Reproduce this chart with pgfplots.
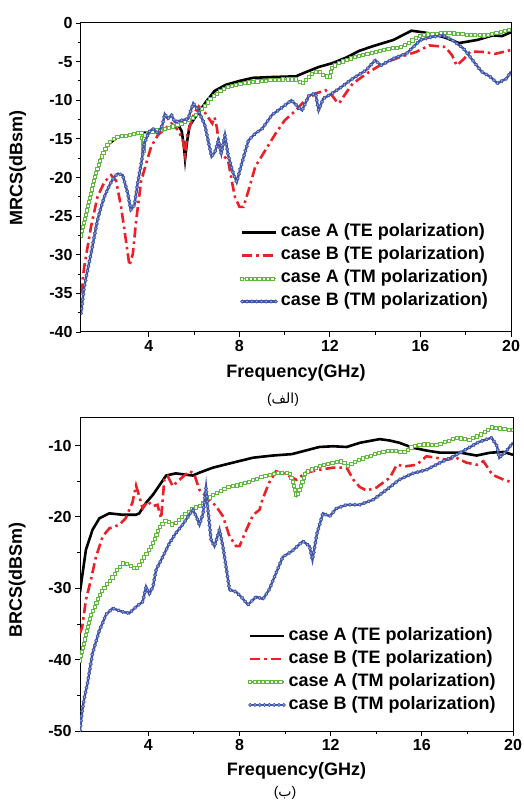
\documentclass[border=0pt]{standalone}
\usepackage{fontspec}
\setmainfont{Liberation Sans}
\newfontfamily\arabicfont[Script=Arabic]{DejaVu Sans}
\TeXXeTstate=1
\usepackage{pgfplots}
\usetikzlibrary{decorations.markings}
\pgfplotsset{compat=1.18}
\definecolor{cred}{RGB}{236,32,38}
\definecolor{cgreen}{RGB}{96,186,62}
\definecolor{cblue}{RGB}{62,84,168}
\pgfplotsset{
 myaxis/.style={
  scale only axis, xmin=1, xmax=20, xtick={4,8,12,16,20}, minor x tick num=1,
  tick align=outside, xtick pos=bottom, ytick pos=left,
  major tick length=5pt, minor tick length=3pt,
  tick style={black, line width=0.9pt},
  axis line style={line width=1pt},
  ticklabel style={font=\fontsize{16}{18}\selectfont\bfseries},
  /pgf/number format/assume math mode=true,
  label style={font=\fontsize{18}{20}\selectfont\bfseries},
  legend cell align=left,
  legend style={draw=none, fill=none, inner sep=0pt, font=\fontsize{18}{20}\selectfont\bfseries,
     nodes={text height=13pt, text depth=4pt, inner sep=3pt}, anchor=north west},
  legend image code/.code={\draw[##1] (0pt,0pt) -- (34pt,0pt);},
 },
 teA/.style={black, line width=2.6pt, no marks},
 teB/.style={cred, line width=2.6pt, no marks, dash pattern=on 10pt off 4pt on 2.5pt off 4pt},
 tmA/.style={cgreen, line width=1.3pt, no marks,
   postaction={decorate}, decoration={markings, mark=between positions 0 and 1 step 4.3pt with
   {\pgftransformresetnontranslations\draw[cgreen, fill=white, line width=0.7pt, solid] (-1.6pt,-1.6pt) rectangle (1.6pt,1.6pt);}}},
 tmB/.style={cblue, line width=2.4pt, no marks,
   postaction={decorate}, decoration={markings, mark=between positions 0 and 1 step 4.8pt with
   {\draw[cblue, fill=white!55!cblue, line width=0.7pt, solid] (0pt,0pt) circle (1.6pt);}}},
}
\begin{document}
\begin{tikzpicture}
\path[use as bounding box] (0pt,0pt) rectangle (523pt,803pt);
% ---------------- top ----------------
\begin{axis}[myaxis, at={(81pt,471pt)}, anchor=south west, width=430pt, height=309pt,
  ymin=-40, ymax=0, ytick={-40,-35,...,0}, minor y tick num=1,
  xlabel={Frequency(GHz)}, ylabel={MRCS(dBsm)},
  xlabel style={at={(axis description cs:0.5,0)}, anchor=center, yshift=-41pt},
  ylabel style={at={(axis description cs:-0.147,0.53)}, anchor=center},
  legend style={at={(axis description cs:0.37,0.36)}}]
\addplot[teA] table {
1.0 -27.6
1.3 -23.9
1.6 -20.2
1.9 -17.4
2.2 -15.7
2.6 -14.8
3.2 -14.5
3.7 -14.2
4.0 -14.2
4.4 -14.0
4.7 -13.8
5.0 -13.4
5.3 -13.2
5.45 -14.0
5.55 -16.0
5.6 -17.6
5.68 -15.5
5.8 -13.3
6.0 -12.4
6.2 -11.6
6.5 -10.3
6.9 -8.8
7.4 -8.0
8.0 -7.5
8.6 -7.1
9.4 -7.0
10.5 -6.9
10.9 -6.4
11.5 -5.7
12.1 -5.2
12.7 -4.5
13.3 -3.6
13.9 -3.0
14.8 -2.2
15.6 -1.0
16.1 -1.2
16.5 -1.4
17.1 -1.9
17.7 -2.6
18.5 -2.2
19.2 -1.6
19.6 -1.7
20.0 -1.2
};
\addlegendentry{case A (TE polarization)}
\addplot[teB] table {
1.0 -35.0
1.14 -31.6
1.44 -26.4
1.73 -22.5
2.03 -20.6
2.33 -19.7
2.55 -20.4
2.77 -23.8
2.92 -26.8
3.14 -31.4
3.29 -29.9
3.44 -25.5
3.66 -20.4
3.88 -18.2
4.1 -16.0
4.4 -14.5
4.7 -13.7
5.0 -13.0
5.3 -13.9
5.5 -15.2
5.6 -17.1
5.7 -14.3
6.0 -11.7
6.2 -10.8
6.5 -11.7
6.8 -13.0
6.9 -12.2
7.0 -13.5
7.1 -15.6
7.2 -16.9
7.5 -17.8
7.66 -20.4
7.8 -22.5
8.0 -23.8
8.18 -23.8
8.4 -21.7
8.7 -18.6
9.14 -16.5
9.6 -14.3
10.0 -12.6
10.5 -11.3
10.9 -10.0
11.4 -9.1
11.8 -8.7
12.1 -9.4
12.25 -10.0
12.4 -10.4
12.7 -9.1
13.0 -7.85
13.6 -6.6
14.3 -5.3
15.1 -4.4
15.8 -3.75
16.4 -2.9
17.1 -3.1
17.4 -4.2
17.6 -5.5
17.9 -4.7
18.2 -3.7
18.8 -3.75
19.3 -4.0
20.0 -3.5
};
\addlegendentry{case B (TE polarization)}
\addplot[tmA] table {
1.0 -27.5
1.15 -25.6
1.3 -23.8
1.45 -21.9
1.6 -20.1
1.75 -18.6
1.9 -17.3
2.05 -16.4
2.2 -15.6
2.4 -15.1
2.6 -14.75
2.9 -14.6
3.2 -14.45
3.45 -14.3
3.66 -14.1
3.72 -15.2
3.76 -16.6
3.8 -14.6
4.0 -14.1
4.35 -13.9
4.7 -13.7
5.0 -13.45
5.3 -13.2
5.6 -12.8
5.9 -12.4
6.1 -11.9
6.3 -11.3
6.55 -10.4
6.8 -9.6
7.1 -8.9
7.4 -8.4
7.7 -8.1
8.0 -7.85
8.4 -7.7
8.8 -7.55
9.3 -7.4
9.9 -7.3
10.5 -7.3
10.8 -7.85
11.1 -6.8
11.3 -6.4
11.5 -6.2
11.7 -6.8
12.0 -7.0
12.1 -5.7
12.4 -5.2
12.7 -4.8
13.1 -4.4
13.6 -4.0
14.3 -3.5
15.1 -3.1
15.5 -2.5
16.0 -1.6
16.5 -1.4
17.3 -1.3
18.0 -1.5
18.8 -1.6
19.5 -1.15
20.0 -0.85
};
\addlegendentry{case A (TM polarization)}
\addplot[tmB] table {
1.0 -37.6
1.14 -34.2
1.29 -32.0
1.44 -29.9
1.59 -27.6
1.73 -25.5
1.88 -23.9
2.03 -22.5
2.18 -21.5
2.33 -20.6
2.48 -19.9
2.62 -19.5
2.84 -19.7
3.07 -22.1
3.2 -24.2
3.36 -23.6
3.5 -20.8
3.66 -18.2
3.8 -15.6
4.0 -14.1
4.18 -13.7
4.4 -14.3
4.6 -13.2
4.7 -11.8
4.84 -12.4
5.0 -11.9
5.14 -12.8
5.44 -12.6
5.73 -12.4
5.96 -10.4
6.18 -11.3
6.47 -13.2
6.77 -17.3
6.92 -16.7
7.07 -15.2
7.2 -16.9
7.36 -14.5
7.5 -17.1
7.73 -19.5
7.88 -20.6
8.1 -18.2
8.4 -15.2
8.7 -14.3
9.0 -13.7
9.44 -11.9
9.9 -10.9
10.3 -10.0
10.6 -10.9
10.77 -11.3
11.07 -9.4
11.36 -9.1
11.5 -11.3
11.7 -9.8
12.1 -9.1
12.5 -8.3
13.0 -7.2
13.6 -6.1
14.0 -4.8
14.25 -5.5
14.8 -4.6
15.4 -3.9
16.0 -2.2
16.5 -1.8
17.0 -1.6
17.4 -2.2
17.9 -3.3
18.3 -4.8
18.7 -6.3
19.1 -7.0
19.4 -7.8
19.8 -7.2
20.0 -6.3
};
\addlegendentry{case B (TM polarization)}
\end{axis}
\node[font=\fontsize{14}{16}\selectfont, inner sep=0pt] at (283pt,403pt)
  {\hbox{(}\hbox{\arabicfont\beginR الف\endR}\hbox{)}};
% ---------------- bottom ----------------
\begin{axis}[myaxis, at={(80pt,72pt)}, anchor=south west, width=433pt, height=314pt,
  ymin=-50, ymax=-6, ytick={-50,-40,...,-10}, minor y tick num=1,
  xlabel={Frequency(GHz)}, ylabel={BRCS(dBSm)},
  xlabel style={at={(axis description cs:0.5,0)}, anchor=center, yshift=-40pt},
  ylabel style={at={(axis description cs:-0.145,0.48)}, anchor=center},
  legend style={at={(axis description cs:0.388,0.34)}}]
\addplot[teA] table {
1.0 -30.5
1.26 -24.6
1.55 -21.8
1.85 -20.2
2.29 -19.5
2.87 -19.7
3.46 -19.7
3.6 -19.5
3.9 -18.0
4.2 -16.9
4.5 -15.5
4.78 -14.2
5.2 -13.9
5.95 -14.2
6.24 -13.8
6.83 -13.1
7.7 -12.4
8.6 -11.7
9.46 -11.4
10.3 -11.2
10.9 -10.7
11.5 -10.2
12.1 -10.1
12.7 -10.2
13.3 -9.6
14.15 -9.1
14.6 -9.3
15.0 -9.6
15.6 -10.3
16.2 -10.7
16.8 -11.0
17.7 -11.0
18.4 -11.4
19.0 -11.0
19.6 -10.9
20.0 -11.3
};
\addlegendentry{case A (TE polarization)}
\addplot[teB] table {
1.0 -36.3
1.1 -35.4
1.26 -31.6
1.48 -28.8
1.7 -25.6
2.0 -22.7
2.29 -21.6
2.73 -21.1
3.0 -20.2
3.3 -18.0
3.46 -15.6
3.6 -17.1
3.75 -18.8
3.97 -17.8
4.19 -18.5
4.4 -18.3
4.56 -20.2
4.7 -14.8
4.85 -14.3
5.07 -15.7
5.36 -14.8
5.8 -13.6
6.0 -13.9
6.24 -16.2
6.53 -17.1
6.97 -18.5
7.27 -19.9
7.56 -22.7
7.85 -24.1
8.0 -24.1
8.3 -21.8
8.6 -19.7
8.88 -19.0
9.0 -17.6
9.3 -15.2
9.6 -13.6
10.05 -14.1
10.5 -14.8
10.9 -13.8
11.5 -13.4
12.1 -13.1
12.7 -13.1
13.0 -14.8
13.27 -15.8
13.57 -16.3
14.0 -15.9
14.6 -14.5
14.9 -12.7
15.3 -12.9
15.77 -12.7
16.2 -11.5
16.6 -11.7
17.1 -12.0
17.5 -11.7
17.96 -12.4
18.4 -12.7
18.7 -12.2
19.1 -14.1
19.6 -14.8
20.0 -15.2
};
\addlegendentry{case B (TE polarization)}
\addplot[tmA] table {
1.0 -40.1
1.1 -38.7
1.2 -37.3
1.3 -35.8
1.4 -34.4
1.55 -33.2
1.7 -32.1
1.85 -31.1
2.0 -30.2
2.2 -29.3
2.43 -28.4
2.65 -27.4
2.87 -26.5
3.16 -26.7
3.46 -27.4
3.75 -26.0
3.95 -25.0
4.2 -23.7
4.35 -22.5
4.5 -21.3
4.78 -20.4
5.07 -21.1
5.36 -20.4
5.66 -19.5
5.95 -18.8
6.24 -18.5
6.53 -17.6
6.75 -17.1
6.97 -16.7
7.2 -16.3
7.4 -15.9
7.7 -15.7
8.0 -15.5
8.3 -15.2
8.6 -14.8
8.9 -14.5
9.17 -14.2
9.5 -14.0
9.76 -13.8
10.2 -13.8
10.35 -15.2
10.5 -17.1
10.7 -15.7
10.9 -13.8
11.2 -13.3
11.5 -12.9
11.8 -12.6
12.1 -12.4
12.5 -12.2
12.76 -12.9
13.0 -12.4
13.27 -12.0
13.56 -11.6
13.86 -11.3
14.15 -11.0
14.45 -10.8
14.9 -10.7
15.2 -11.0
15.6 -10.1
15.9 -9.9
16.2 -9.8
16.6 -10.0
17.1 -9.4
17.5 -8.9
18.1 -9.2
18.5 -8.6
18.8 -8.0
19.1 -7.4
19.6 -7.7
20.0 -7.8
};
\addlegendentry{case A (TM polarization)}
\addplot[tmB] table {
1.0 -49.9
1.1 -47.1
1.2 -45.2
1.33 -43.3
1.44 -41.2
1.55 -39.1
1.7 -37.5
1.85 -35.9
2.0 -34.8
2.14 -33.7
2.43 -32.8
2.87 -33.3
3.16 -33.5
3.46 -32.6
3.75 -31.9
3.9 -29.8
4.04 -30.8
4.2 -29.8
4.34 -27.4
4.63 -25.6
4.92 -23.7
5.2 -22.3
5.5 -21.1
5.8 -19.7
5.95 -19.0
6.1 -19.9
6.24 -21.1
6.4 -19.5
6.53 -15.9
6.6 -18.5
6.75 -23.2
6.9 -24.1
7.12 -21.8
7.27 -24.1
7.41 -27.0
7.56 -30.2
7.85 -30.5
8.07 -31.2
8.37 -32.3
8.73 -31.2
9.03 -31.5
9.3 -30.2
9.6 -27.9
9.9 -25.6
10.3 -24.8
10.78 -23.4
11.07 -24.1
11.2 -26.0
11.4 -22.3
11.66 -19.5
11.96 -19.9
12.25 -18.8
12.7 -18.3
13.27 -18.3
13.86 -17.6
14.45 -16.2
15.0 -14.8
15.6 -13.9
16.2 -13.4
16.8 -12.4
17.4 -11.5
17.96 -10.5
18.5 -9.5
19.06 -8.9
19.3 -10.1
19.4 -11.7
19.65 -11.0
20.0 -9.6
};
\addlegendentry{case B (TM polarization)}
\end{axis}
\node[font=\fontsize{14}{16}\selectfont, inner sep=0pt] at (285pt,10pt)
  {\hbox{(}\hbox{\arabicfont\beginR ب\endR}\hbox{)}};
\end{tikzpicture}
\end{document}
